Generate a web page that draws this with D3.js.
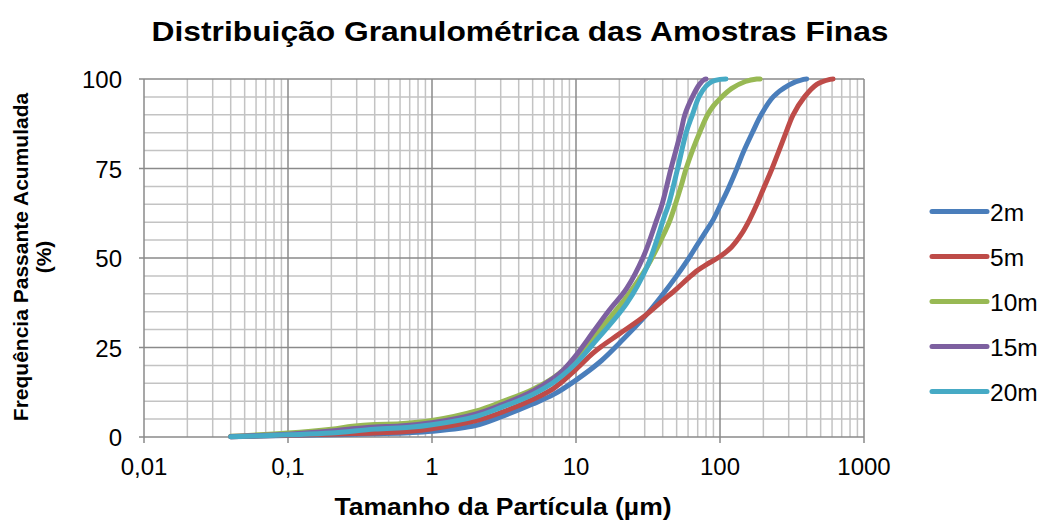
<!DOCTYPE html>
<html>
<head>
<meta charset="utf-8">
<script src="https://cdn.jsdelivr.net/npm/d3@7"></script>
<style>
  html, body { margin: 0; padding: 0; background: #fff; }
  svg { display: block; font-family: "Liberation Sans", Arial, sans-serif; }
</style>
</head>
<body>
<svg id="chart" width="1045" height="520"></svg>
<script>
// Cumulative passing (%) versus particle size (µm) for each sampling depth
const seriesNames = ["2m", "5m", "10m", "15m", "20m"];
const seriesColors = ["#4A7EBB", "#BE4B48", "#98B954", "#7D60A0", "#46AAC5"];

const sizes2m = [0.04, 0.1, 0.2, 0.4, 0.7, 1, 2, 3, 5, 7, 10, 15, 20, 30, 40, 50, 60, 70, 80, 90, 100, 113, 131, 145, 170, 193, 234, 300, 380, 400];
const pass2m  = [0.1, 0.4, 0.6, 0.9, 1.2, 1.6, 3.2, 5.6, 9.2, 11.9, 15.9, 21.3, 26.2, 33.6, 39.8, 45.0, 49.6, 53.9, 57.5, 60.8, 64.6, 69, 75, 79.5, 85.5, 90, 95, 98.3, 99.9, 100];

const sizes5m = [0.04, 0.1, 0.2, 0.4, 0.7, 1, 2, 3, 5, 7, 10, 13, 15, 20, 30, 40, 50, 60, 70, 80, 100, 120, 140, 160, 178, 200, 230, 257, 287, 322, 386, 470, 580, 610];
const pass5m  = [0.1, 0.5, 0.8, 1.1, 1.6, 2.3, 4.5, 6.8, 10.5, 13.6, 18.9, 23.3, 25.3, 28.8, 33.8, 38.1, 41.4, 44.3, 46.6, 48.1, 50.4, 53, 56.5, 60.6, 64.5, 69.3, 75, 80, 85, 90, 95, 98.5, 99.9, 100];

const sizes10m = [0.04, 0.1, 0.2, 0.28, 0.4, 0.6, 1, 2, 3, 5, 7, 10, 13.3, 22.5, 31.2, 40, 45, 49, 53.6, 58.2, 65, 73, 82, 90, 100, 120, 150, 180, 190];
const pass10m  = [0.2, 1.1, 2.2, 3.0, 3.5, 3.7, 4.6, 7.2, 9.7, 13.3, 16.6, 22.0, 28, 39.2, 47.6, 56, 60.6, 65, 70, 75, 80.5, 85.5, 90, 92.5, 94.5, 97.3, 99.3, 100, 100];

const sizes15m = [0.04, 0.1, 0.2, 0.28, 0.4, 0.6, 1, 2, 3, 5, 7, 8.2, 10, 13.3, 17, 22.5, 29.4, 36.3, 39.6, 45.7, 53.3, 57, 64.3, 72, 78, 80];
const pass15m  = [0.15, 0.8, 1.7, 2.3, 2.8, 3.1, 4.0, 6.4, 8.9, 12.8, 16.5, 18.8, 22.8, 29.6, 35.4, 41.5, 50.4, 60.6, 65, 75, 85, 90, 95, 98.5, 99.9, 100];

const sizes20m = [0.04, 0.1, 0.2, 0.4, 0.7, 1, 2, 3, 5, 7, 10, 13.3, 22.5, 31.2, 41, 44, 50.8, 58.2, 64.3, 71.4, 80, 88, 100, 110];
const pass20m  = [0.1, 0.6, 1.1, 2.2, 2.7, 3.4, 5.7, 8.2, 11.9, 15.3, 20.6, 26.2, 37.3, 47.6, 61.5, 65, 75, 85, 90, 95, 98, 99.3, 99.9, 100];

const allSizes = [sizes2m, sizes5m, sizes10m, sizes15m, sizes20m];
const allPass = [pass2m, pass5m, pass10m, pass15m, pass20m];

const xTickValues = [0.01, 0.1, 1, 10, 100, 1000];
const xTickLabels = ["0,01", "0,1", "1", "10", "100", "1000"];
const yTickValues = [0, 25, 50, 75, 100];

const chartTitle = "Distribuição Granulométrica das Amostras Finas";
const xTitle = "Tamanho da Partícula (µm)";
const yTitleLines = ["Frequência Passante Acumulada", "(%)"];

// Layout
const plot = { left: 144, right: 864, top: 79, bottom: 437 };

const svg = d3.select("#chart");

const x = d3.scaleLog().domain([0.01, 1000]).range([plot.left, plot.right]);
const y = d3.scaleLinear().domain([0, 100]).range([plot.bottom, plot.top]);

// Minor gridlines
const minorX = [];
for (let d = 0.01; d < 1000; d *= 10) {
  for (let k = 2; k <= 9; k++) minorX.push(d * k);
}
const minorY = d3.range(5, 100, 5).filter(v => v % 25 !== 0);

const grid = svg.append("g");
grid.selectAll("line.mx").data(minorX).join("line")
  .attr("x1", d => x(d)).attr("x2", d => x(d))
  .attr("y1", plot.top).attr("y2", plot.bottom)
  .attr("stroke", "#c3c3c3").attr("stroke-width", 1.5);
grid.selectAll("line.my").data(minorY).join("line")
  .attr("x1", plot.left).attr("x2", plot.right)
  .attr("y1", d => y(d)).attr("y2", d => y(d))
  .attr("stroke", "#c3c3c3").attr("stroke-width", 1.5);

// Major gridlines with outward ticks
grid.selectAll("line.Mx").data(xTickValues).join("line")
  .attr("x1", d => x(d)).attr("x2", d => x(d))
  .attr("y1", plot.top).attr("y2", plot.bottom + 6)
  .attr("stroke", "#8a8a8a").attr("stroke-width", 1.5);
grid.selectAll("line.My").data(yTickValues).join("line")
  .attr("x1", plot.left - 5).attr("x2", plot.right)
  .attr("y1", d => y(d)).attr("y2", d => y(d))
  .attr("stroke", "#8a8a8a").attr("stroke-width", 1.5);

// Axis tick labels
svg.append("g").selectAll("text").data(xTickValues).join("text")
  .attr("x", d => x(d)).attr("y", plot.bottom + 38)
  .attr("text-anchor", "middle")
  .attr("font-size", 24)
  .text((d, i) => xTickLabels[i]);

svg.append("g").selectAll("text").data(yTickValues).join("text")
  .attr("x", plot.left - 22).attr("y", d => y(d) + 9)
  .attr("text-anchor", "end")
  .attr("font-size", 24)
  .text(d => d);

// Series lines, smoothed through the measured points
const line = d3.line()
  .x(d => x(d[0]))
  .y(d => y(d[1]))
  .curve(d3.curveCatmullRom.alpha(0.5));

const series = seriesNames.map((name, i) => ({
  name,
  color: seriesColors[i],
  points: allSizes[i].map((s, j) => [s, allPass[i][j]])
}));

svg.append("g").selectAll("path").data(series).join("path")
  .attr("d", d => line(d.points))
  .attr("fill", "none")
  .attr("stroke", d => d.color)
  .attr("stroke-width", 5)
  .attr("stroke-linecap", "round")
  .attr("stroke-linejoin", "round");

// Legend
const legend = svg.append("g");
const legendY = d3.scaleLinear().domain([0, 4]).range([211.5, 391.5]);
legend.selectAll("line").data(series).join("line")
  .attr("x1", 932).attr("x2", 987)
  .attr("y1", (d, i) => legendY(i)).attr("y2", (d, i) => legendY(i))
  .attr("stroke", d => d.color)
  .attr("stroke-width", 5)
  .attr("stroke-linecap", "round");
legend.selectAll("text").data(series).join("text")
  .attr("x", 990).attr("y", (d, i) => legendY(i) + 9)
  .attr("font-size", 24.5)
  .text(d => d.name);

// Titles
svg.append("text")
  .attr("x", 520).attr("y", 41)
  .attr("text-anchor", "middle")
  .attr("font-size", 28).attr("font-weight", "bold")
  .attr("textLength", 737).attr("lengthAdjust", "spacingAndGlyphs")
  .text(chartTitle);

svg.append("text")
  .attr("x", 503).attr("y", 515)
  .attr("text-anchor", "middle")
  .attr("font-size", 23).attr("font-weight", "bold")
  .attr("textLength", 337).attr("lengthAdjust", "spacingAndGlyphs")
  .text(xTitle);

const yt = svg.append("text")
  .attr("transform", "translate(28,257) rotate(-90)")
  .attr("text-anchor", "middle")
  .attr("font-size", 21).attr("font-weight", "bold");
yt.selectAll("tspan").data(yTitleLines).join("tspan")
  .attr("x", 0).attr("dy", (d, i) => i === 0 ? 0 : 23)
  .text(d => d);
</script>
</body>
</html>
